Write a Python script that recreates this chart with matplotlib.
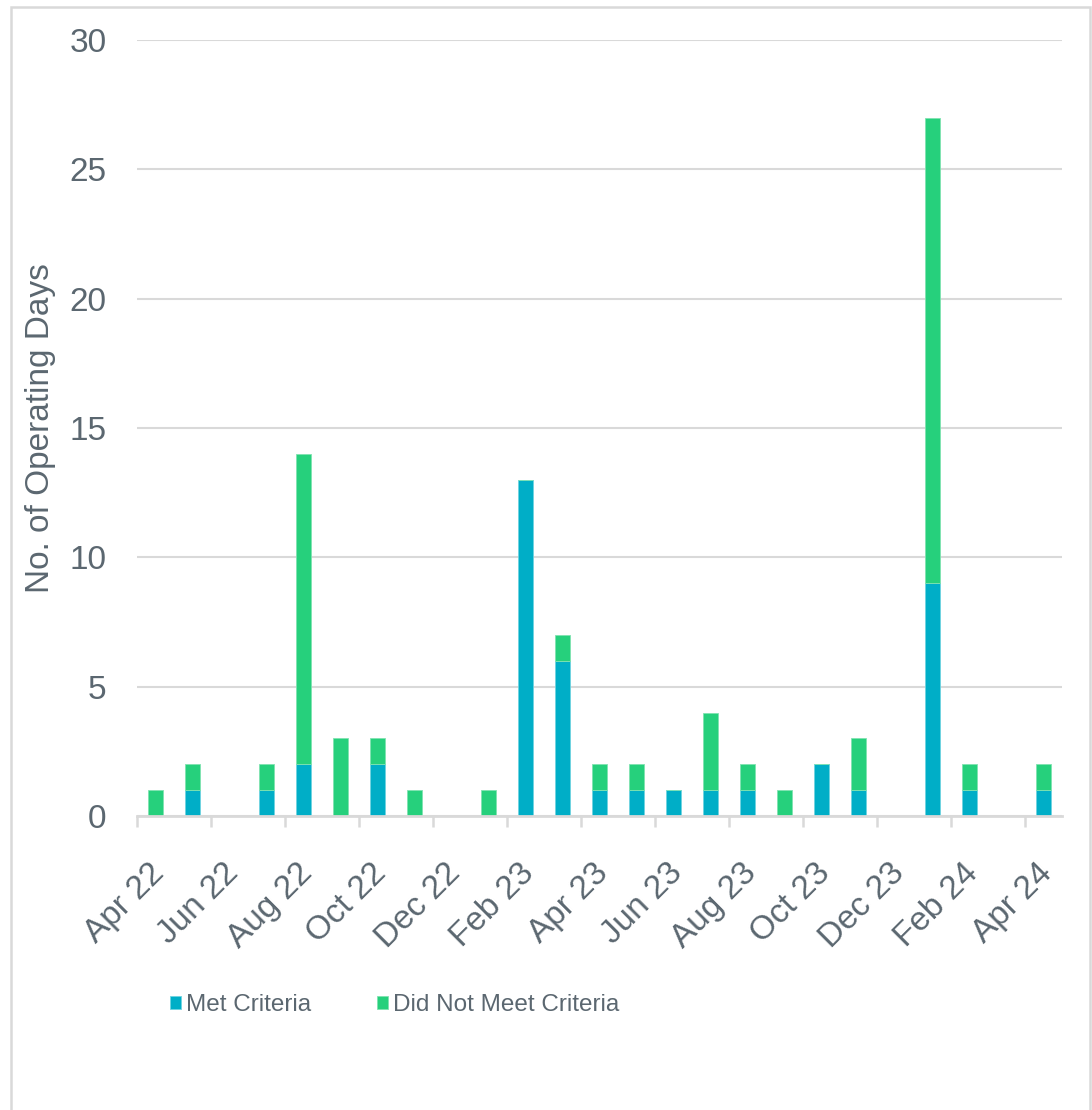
import matplotlib
matplotlib.use("Agg")
import matplotlib.pyplot as plt
import numpy as np
from matplotlib.patches import Rectangle
from matplotlib.transforms import ScaledTranslation

months = ['Apr 22', 'May 22', 'Jun 22', 'Jul 22', 'Aug 22', 'Sep 22', 'Oct 22',
          'Nov 22', 'Dec 22', 'Jan 23', 'Feb 23', 'Mar 23', 'Apr 23', 'May 23',
          'Jun 23', 'Jul 23', 'Aug 23', 'Sep 23', 'Oct 23', 'Nov 23', 'Dec 23',
          'Jan 24', 'Feb 24', 'Mar 24', 'Apr 24']
met = [0, 1, 0, 1, 2, 0, 2, 0, 0, 0, 13, 6, 1, 1, 1, 1, 1, 0, 2, 1, 0, 9, 1, 0, 1]
not_met = [1, 1, 0, 1, 12, 3, 1, 1, 0, 1, 0, 1, 1, 1, 0, 3, 1, 1, 0, 2, 0, 18, 1, 0, 1]
y_ticks = [0, 5, 10, 15, 20, 25, 30]

BLUE = '#00AEC7'
GREEN = '#26D07C'
TEXT = '#5B6770'
GRID = '#D9D9D9'

plt.rcParams['font.family'] = ['Liberation Sans', 'DejaVu Sans']

fig = plt.figure(figsize=(10.92, 11.10), dpi=100)
ax = fig.add_axes([137/1092, 1-816/1110, 925/1092, 776/1110])

x = np.arange(len(months))
ax.bar(x, met, width=0.4, color=BLUE, edgecolor='#6fd3e0', linewidth=0.6,
       label='Met Criteria', zorder=3)
ax.bar(x, not_met, width=0.4, bottom=met, color=GREEN, edgecolor='#7fe3b0',
       linewidth=0.6, label='Did Not Meet Criteria', zorder=3)

ax.set_xlim(-0.5, len(months) - 0.5)
ax.set_ylim(0, 30)
ax.set_yticks(y_ticks)
ax.yaxis.grid(True, color=GRID, linewidth=1.5, zorder=0)
ax.set_axisbelow(True)

for s in ['top', 'right', 'left']:
    ax.spines[s].set_visible(False)
ax.spines['bottom'].set_color(GRID)
ax.spines['bottom'].set_linewidth(2)
ax.spines['bottom'].set_zorder(4)

# labels every second month, ticks on the category borders
ax.set_xticks(x[::2])
ax.set_xticklabels(months[::2], rotation=45, ha='right', va='top',
                   rotation_mode='anchor', fontsize=24, color=TEXT)
ax.set_xticks(np.arange(-0.5, len(months) - 1, 2), minor=True)
ax.tick_params(axis='x', which='major', length=0, pad=30)
ax.tick_params(axis='x', which='minor', length=8, width=1.8, color=GRID)
for lab in ax.get_xticklabels():
    lab.set_transform(lab.get_transform() + ScaledTranslation(-0.07, 0, fig.dpi_scale_trans))

ax.tick_params(axis='y', length=0, pad=22, labelsize=24, labelcolor=TEXT)

ax.set_ylabel('No. of Operating Days', fontsize=24, color=TEXT, va='center')
ax.yaxis.set_label_coords(-0.104, 0.5)

leg = fig.legend(loc='center left', bbox_to_anchor=(170/1092, 1-1005/1110),
                 ncol=2, frameon=False, borderpad=0, borderaxespad=0,
                 handlelength=0.45, handleheight=0.45, handletextpad=0.22,
                 columnspacing=2.7, prop={'size': 17.5})
for t in leg.get_texts():
    t.set_color(TEXT)

fig.patches.append(Rectangle((11/1092, -0.01), 1079/1092, 1 - 7/1110 + 0.01,
                             transform=fig.transFigure, fill=False,
                             edgecolor=GRID, linewidth=1.8))

fig.savefig('out.png', dpi=100)
